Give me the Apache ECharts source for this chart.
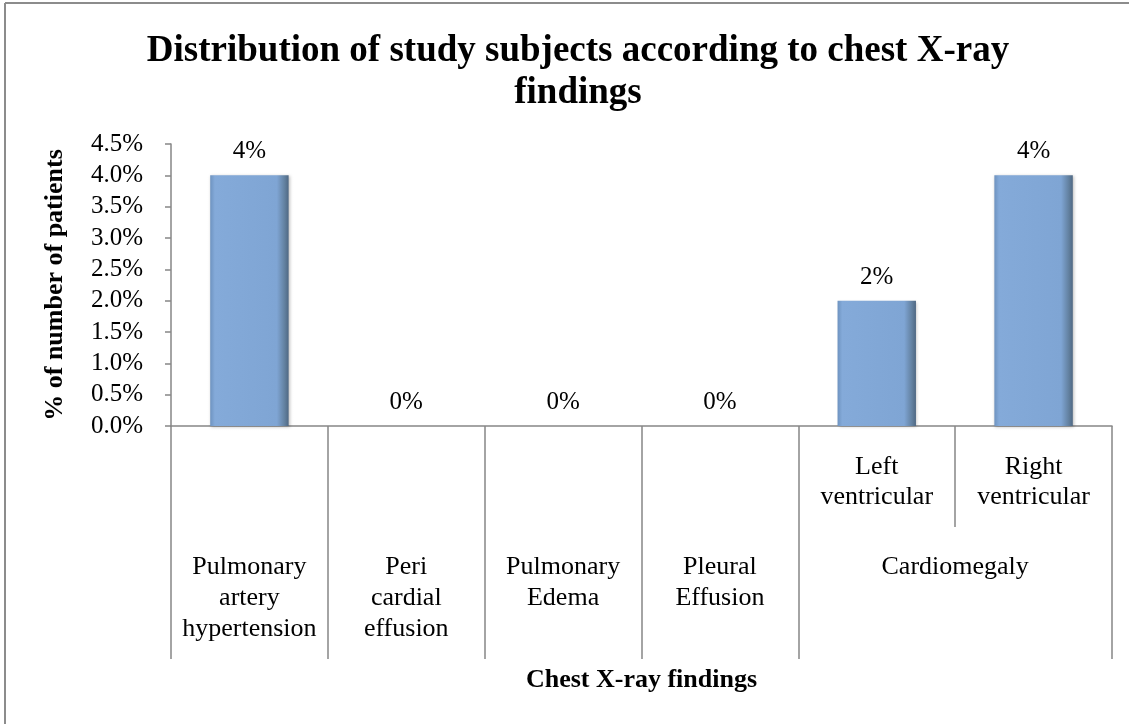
<!DOCTYPE html>
<html>
<head>
<meta charset="utf-8">
<script src="https://cdn.jsdelivr.net/npm/echarts@6/dist/echarts.min.js"></script>
<style>
html,body{margin:0;padding:0;background:#fff;}
#c{width:1129px;height:724px;}
</style>
</head>
<body>
<div id="c"></div>
<script>
// ---- data ----
const titleText = 'Distribution of study subjects according to chest X-ray\nfindings';
const yAxisTitle = '% of number of patients';
const xAxisTitle = 'Chest X-ray findings';
const subCategories = ['', '', '', '', 'Left\nventricular', 'Right\nventricular'];
const groupLabels = ['Pulmonary\nartery\nhypertension', 'Peri\ncardial\neffusion', 'Pulmonary\nEdema', 'Pleural\nEffusion', 'Cardiomegaly'];
const groupSpans = [1, 1, 1, 1, 2];
const values = [4, 0, 0, 0, 2, 4];
const yMax = 4.5;
const yStep = 0.5;

// ---- build half-band label slots for group labels ----
const slotCount = subCategories.length * 2 + 1;
const groupSlots = new Array(slotCount).fill('');
let start = 0;
groupLabels.forEach((g, i) => {
  groupSlots[2 * start + groupSpans[i]] = g;
  start += groupSpans[i];
});

const FONT = "'Liberation Serif','Times New Roman',serif";
const AXIS = '#868686';

const chart = echarts.init(document.getElementById('c'), null, {renderer: 'canvas'});
chart.setOption({
  backgroundColor: '#fff',
  animation: false,
  title: {
    text: titleText,
    left: 573, top: 25, textAlign: 'center',
    textStyle: {fontFamily: FONT, fontWeight: 'bold', fontSize: 37, lineHeight: 42, color: '#000'}
  },
  graphic: [
    {type: 'line', shape: {x1: 5, y1: 3, x2: 1129, y2: 3}, style: {stroke: '#8c8c8c', lineWidth: 2}},
    {type: 'line', shape: {x1: 5, y1: 3, x2: 5, y2: 724}, style: {stroke: '#8c8c8c', lineWidth: 2}}
  ],
  grid: {left: 171, right: 17, top: 144, bottom: 298, containLabel: false},
  yAxis: {
    type: 'value', min: 0, max: yMax, interval: yStep,
    name: yAxisTitle, nameLocation: 'middle', nameGap: 103,
    nameTextStyle: {fontFamily: FONT, fontWeight: 'bold', fontSize: 26, color: '#000'},
    axisLine: {show: true, lineStyle: {color: AXIS, width: 1.5}},
    axisTick: {show: true, length: 6, lineStyle: {color: AXIS, width: 1.5}},
    splitLine: {show: false},
    axisLabel: {fontFamily: FONT, fontSize: 25, color: '#000', margin: 28,
      formatter: v => v.toFixed(1) + '%'}
  },
  xAxis: [
    {
      type: 'category', data: subCategories, position: 'bottom',
      axisLine: {show: true, lineStyle: {color: AXIS, width: 1.5}},
      axisTick: {show: true, length: 101, interval: (i) => i >= 4, lineStyle: {color: AXIS, width: 1.5}},
      axisLabel: {interval: 0, fontFamily: FONT, fontSize: 26, lineHeight: 30, color: '#000', margin: 26}
    },
    {
      type: 'category', data: subCategories, position: 'bottom',
      axisLine: {show: false},
      axisTick: {show: true, length: 233, interval: (i) => i < 5, lineStyle: {color: AXIS, width: 1.5}},
      axisLabel: {show: false}
    },
    {
      type: 'category', data: groupSlots, position: 'bottom', boundaryGap: false,
      axisLine: {show: false}, axisTick: {show: false},
      axisLabel: {interval: 0, fontFamily: FONT, fontSize: 26, lineHeight: 31, color: '#000', margin: 126},
      name: xAxisTitle, nameLocation: 'middle', nameGap: 241,
      nameTextStyle: {fontFamily: FONT, fontWeight: 'bold', fontSize: 26, color: '#000', verticalAlign: 'top'}
    }
  ],
  series: [{
    type: 'bar', xAxisIndex: 0, data: values, barWidth: '50%',
    itemStyle: {
      color: new echarts.graphic.LinearGradient(0, 0, 1, 0, [
        {offset: 0, color: '#6e93c0'},
        {offset: 0.06, color: '#84aad9'},
        {offset: 0.85, color: '#7fa5d4'},
        {offset: 0.95, color: '#62809f'},
        {offset: 1, color: '#4f6883'}
      ]),
      shadowColor: 'rgba(0,0,0,0.25)', shadowBlur: 3, shadowOffsetX: 1, shadowOffsetY: 1
    },
    label: {show: true, position: 'top', distance: 11, fontFamily: FONT, fontSize: 25, color: '#000',
      formatter: p => p.value + '%'}
  }]
});
</script>
</body>
</html>
